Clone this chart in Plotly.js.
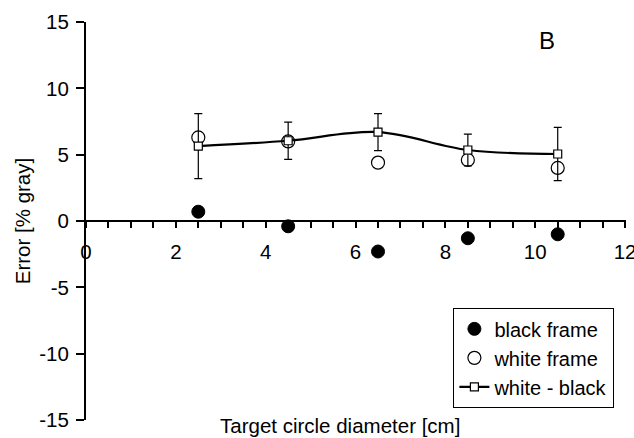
<!DOCTYPE html>
<html><head><meta charset="utf-8">
<script src="https://cdn.plot.ly/plotly-3.0.1.min.js"></script>
<style>body{margin:0;background:#fff}#c{width:634px;height:438px}</style>
</head><body><div id="c"></div>
<script>
const diameters = [2.5, 4.5, 6.5, 8.5, 10.5];
const blackFrame = [0.7, -0.4, -2.3, -1.3, -1.0];
const whiteFrame = [6.3, 6.0, 4.4, 4.6, 4.0];
const whiteMinusBlack = [5.65, 6.05, 6.7, 5.35, 5.05];
const diffError = [2.45, 1.4, 1.4, 1.2, 2.0];
const xTicks = [0, 2, 4, 6, 8, 10, 12];
const yTicks = [-15, -10, -5, 0, 5, 10, 15];

const fam = 'Liberation Sans, Arial, sans-serif';
const font = {family: fam, size: 20.5, color: '#000'};

const traces = [
  {x: diameters, y: blackFrame, name: 'black frame', type: 'scatter', mode: 'markers',
   marker: {symbol: 'circle', size: 13, color: '#000', line: {color: '#000', width: 1}}},
  {x: diameters, y: whiteFrame, name: 'white frame', type: 'scatter', mode: 'markers',
   marker: {symbol: 'circle', size: 13, color: '#fff', line: {color: '#000', width: 1.2}}},
  {x: diameters, y: whiteMinusBlack, name: 'white - black', type: 'scatter', mode: 'lines+markers',
   line: {shape: 'spline', color: '#000', width: 2.2},
   marker: {symbol: 'square', size: 8, color: '#fff', line: {color: '#000', width: 1.2}},
   error_y: {type: 'data', array: diffError, visible: true, color: '#000', thickness: 1.2, width: 4}}
];

const layout = {
  width: 634, height: 438,
  margin: {l: 86, r: 8, t: 22, b: 18},
  paper_bgcolor: '#fff', plot_bgcolor: '#fff',
  font: font,
  showlegend: true,
  legend: {x: 0.68, y: 0.281, xanchor: 'left', yanchor: 'top',
           bordercolor: '#000', borderwidth: 1.2, bgcolor: '#fff',
           font: {family: fam, size: 20, color: '#000'},
           tracegroupgap: 0, itemwidth: 30},
  xaxis: {range: [0, 12.02], anchor: 'free', position: 0.5,
          tickvals: xTicks, ticktext: xTicks.map(String),
          ticklabeloverflow: 'allow', ticklabelstandoff: 6,
          showgrid: false, zeroline: false, showline: true, linecolor: '#000', linewidth: 2,
          ticks: 'outside', ticklen: 6, tickwidth: 2, tickcolor: '#000',
          minor: {dtick: 0.5, tick0: 0, ticks: 'outside', ticklen: 6, tickwidth: 2, tickcolor: '#000', showgrid: false},
          tickfont: font},
  yaxis: {range: [-15, 15], tickvals: yTicks, ticktext: yTicks.map(String),
          ticklabelstandoff: 3,
          showgrid: false, zeroline: false, showline: true, linecolor: '#000', linewidth: 2,
          ticks: 'outside', ticklen: 8, tickwidth: 2, tickcolor: '#000',
          tickfont: font,
          title: {text: 'Error [% gray]', font: font, standoff: 3}},
  annotations: [
    {text: 'Target circle diameter [cm]', xref: 'paper', yref: 'paper', x: 0.47, y: -0.048,
     xanchor: 'center', yanchor: 'bottom', showarrow: false, font: font},
    {text: 'B', xref: 'x', yref: 'y', x: 10.27, y: 13.64, showarrow: false,
     font: {family: fam, size: 24, color: '#000'}}
  ]
};

Plotly.newPlot('c', traces, layout, {displayModeBar: false, staticPlot: true});
</script></body></html>
